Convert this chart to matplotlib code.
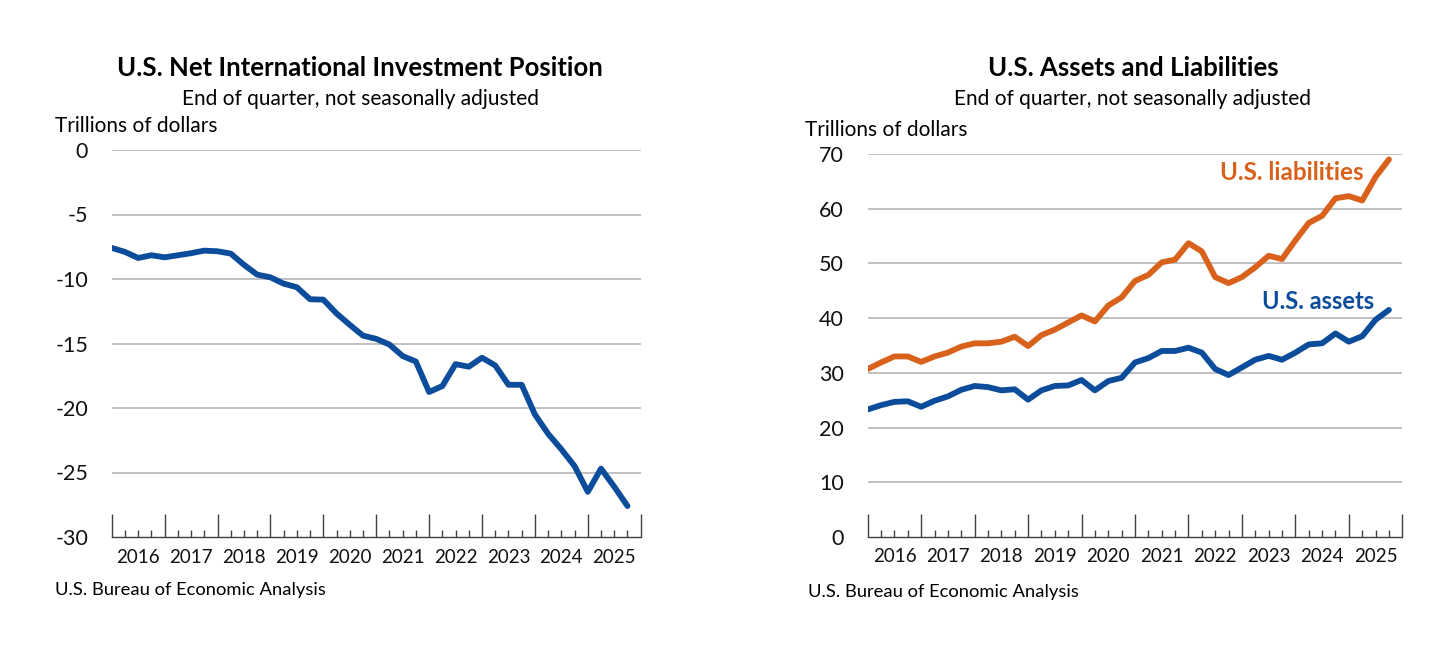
import matplotlib
matplotlib.use("Agg")
import matplotlib.pyplot as plt
import numpy as np

# Quarterly data, 2015Q4 through 2025Q3 (trillions of dollars)
years = ['2016', '2017', '2018', '2019', '2020', '2021', '2022', '2023', '2024', '2025']

niip = [-7.59, -7.9, -8.37, -8.16, -8.32, -8.16, -8.0, -7.8, -7.85, -8.03,
        -8.9, -9.66, -9.87, -10.36, -10.64, -11.57, -11.6, -12.67, -13.55, -14.39,
        -14.64, -15.08, -15.97, -16.4, -18.76, -18.3, -16.6, -16.8, -16.1, -16.7,
        -18.2, -18.2, -20.5, -22.0, -23.2, -24.5, -26.5, -24.7, -26.1, -27.6]

assets = [23.3, 24.1, 24.7, 24.8, 23.8, 24.9, 25.7, 26.9, 27.6, 27.4,
          26.8, 27.0, 25.1, 26.8, 27.6, 27.7, 28.7, 26.8, 28.5, 29.1,
          31.9, 32.7, 34.0, 34.0, 34.6, 33.7, 30.7, 29.6, 31.0, 32.4,
          33.1, 32.4, 33.7, 35.2, 35.4, 37.2, 35.7, 36.7, 39.7, 41.5]

liabilities = [30.7, 31.9, 33.0, 33.0, 32.0, 33.0, 33.7, 34.8, 35.4, 35.4,
               35.7, 36.6, 34.9, 36.9, 37.9, 39.2, 40.5, 39.4, 42.3, 43.8,
               46.8, 47.9, 50.2, 50.7, 53.7, 52.2, 47.5, 46.4, 47.5, 49.3,
               51.4, 50.8, 54.2, 57.4, 58.7, 61.9, 62.3, 61.5, 65.8, 69.0]

BLUE = '#0B4C9B'
ORANGE = '#D8621C'
GRID = '#BBBBBB'
FONT = 'Lato'

plt.rcParams['font.family'] = [FONT, 'DejaVu Sans']

fig = plt.figure(figsize=(14.56, 6.45), dpi=100)
W, H = 1456, 645


def make_axes(x0, x1, ytop, ybot):
    return fig.add_axes([x0 / W, 1 - ybot / H, (x1 - x0) / W, (ybot - ytop) / H])


def style_axes(ax, ylim, yticks):
    n = len(niip)
    ax.set_xlim(0, n)
    ax.set_ylim(*ylim)
    for s in ['top', 'right', 'left']:
        ax.spines[s].set_visible(False)
    ax.spines['bottom'].set_color('#404040')
    ax.spines['bottom'].set_linewidth(1.0)
    for v in yticks[1:]:
        ax.axhline(v, color=GRID, lw=1.3, zorder=1)
    ax.set_yticks(yticks)
    ax.set_yticklabels([str(v) for v in yticks], fontsize=15.5, color='#111111')
    ax.tick_params(axis='y', length=0, pad=17)
    ax.set_xticks(np.arange(0, n + 1, 4))
    ax.set_xticklabels([])
    ax.set_xticks(np.arange(0, n + 1), minor=True)
    ax.tick_params(axis='x', which='major', direction='in', length=16.5, width=1.0, color='#404040')
    ax.tick_params(axis='x', which='minor', direction='in', length=5, width=1.0, color='#404040')
    for i, yr in enumerate(years):
        ax.text(i * 4 + 2, -0.052, yr, transform=ax.get_xaxis_transform(),
                ha='center', va='center', fontsize=13.5, color='#111111')


x = np.arange(len(niip))

# Left panel: net position
ax1 = make_axes(111.7, 640.7, 150, 537)
style_axes(ax1, (-30, 0), [-30, -25, -20, -15, -10, -5, 0])
ax1.plot(x, niip, color=BLUE, lw=4.2, solid_capstyle='round', zorder=3)
fig.text(360 / W, 1 - 68 / H, 'U.S. Net International Investment Position',
         ha='center', va='center', fontsize=18.5, fontweight='bold')
fig.text(360 / W, 1 - 99 / H, 'End of quarter, not seasonally adjusted',
         ha='center', va='center', fontsize=15)
fig.text(55 / W, 1 - 126 / H, 'Trillions of dollars', ha='left', va='center', fontsize=15)
fig.text(55 / W, 1 - 590 / H, 'U.S. Bureau of Economic Analysis', ha='left', va='center', fontsize=13.2)

# Right panel: assets and liabilities
ax2 = make_axes(867.7, 1402.3, 154, 537)
style_axes(ax2, (0, 70), [0, 10, 20, 30, 40, 50, 60, 70])
ax2.plot(x, liabilities, color=ORANGE, lw=4.2, solid_capstyle='round', zorder=3)
ax2.plot(x, assets, color=BLUE, lw=4.2, solid_capstyle='round', zorder=3)
ax2.text(37.1, 66.6, 'U.S. liabilities', color=ORANGE, ha='right', va='center',
         fontsize=17.5, fontweight='bold')
ax2.text(37.9, 43.0, 'U.S. assets', color=BLUE, ha='right', va='center',
         fontsize=17, fontweight='bold')
fig.text(1133 / W, 1 - 68 / H, 'U.S. Assets and Liabilities',
         ha='center', va='center', fontsize=18.5, fontweight='bold')
fig.text(1133 / W, 1 - 99 / H, 'End of quarter, not seasonally adjusted',
         ha='center', va='center', fontsize=15)
fig.text(805 / W, 1 - 130 / H, 'Trillions of dollars', ha='left', va='center', fontsize=15)
fig.text(808 / W, 1 - 592 / H, 'U.S. Bureau of Economic Analysis', ha='left', va='center', fontsize=13.2)

fig.savefig('out.png', dpi=100)
